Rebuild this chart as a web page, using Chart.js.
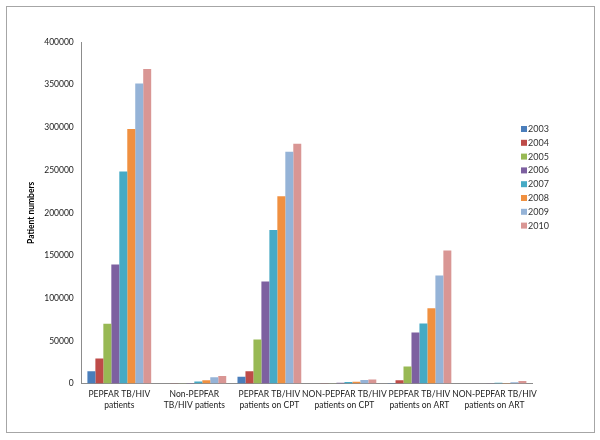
<!DOCTYPE html>
<html>
<head>
<meta charset="utf-8">
<script src="https://cdn.jsdelivr.net/npm/chart.js@4"></script>
<style>
  body { margin: 0; background: #fff; }
  #frame {
    position: absolute; left: 6px; top: 6px;
    width: 587px; height: 425px;
    border: 1px solid #a6a6a6;
  }
</style>
</head>
<body>
<div id="frame"><canvas id="main-chart" width="587" height="425"></canvas></div>
<script>
const categories = [
  ["PEPFAR TB/HIV", "patients"],
  ["Non-PEPFAR", "TB/HIV patients"],
  ["PEPFAR TB/HIV", "patients on CPT"],
  ["NON-PEPFAR TB/HIV", "patients on CPT"],
  ["PEPFAR TB/HIV", "patients on ART"],
  ["NON-PEPFAR TB/HIV", "patients on ART"]
];
const years = ["2003", "2004", "2005", "2006", "2007", "2008", "2009", "2010"];

const v2003 = [14500, 0, 8000, 0, 800, 0];
const v2004 = [29500, 300, 14500, 300, 3900, 0];
const v2005 = [70000, 400, 51500, 500, 19900, 200];
const v2006 = [139500, 800, 119500, 1000, 59800, 400];
const v2007 = [248500, 2400, 180000, 2000, 70400, 1000];
const v2008 = [298000, 4000, 219500, 2300, 88300, 800];
const v2009 = [351500, 7500, 271500, 4300, 126700, 1500];
const v2010 = [368500, 9000, 281000, 4700, 156000, 3100];
const series = [v2003, v2004, v2005, v2006, v2007, v2008, v2009, v2010];

const colors = ["#4A7EBB", "#BE4B48", "#98B954", "#7D60A0", "#46AAC5", "#F09040", "#95B3D7", "#D99694"];

const yTicks = [0, 50000, 100000, 150000, 200000, 250000, 300000, 350000, 400000];

const ctx = document.getElementById("main-chart").getContext("2d");
const font = "Lato, 'Open Sans', sans-serif";

// legend drawn by hand so it sits where Excel put it
const sideLegend = {
  id: "sideLegend",
  afterDraw(chart) {
    const c = chart.ctx;
    c.save();
    c.font = "9px " + font;
    c.textBaseline = "middle";
    chart.data.datasets.forEach((ds, i) => {
      const y = 122 + i * 13.8;
      c.fillStyle = ds.backgroundColor;
      c.fillRect(514, y - 3, 6, 6);
      c.fillStyle = "#333";
      c.fillText(ds.label, 521, y);
    });
    c.restore();
  },
};

new Chart(ctx, {
  type: "bar",
  data: {
    labels: categories,
    datasets: years.map((y, i) => ({
      label: y,
      data: series[i],
      backgroundColor: colors[i],
      categoryPercentage: 0.85,
      barPercentage: 1.0,
    })),
  },
  options: {
    responsive: false,
    animation: false,
    layout: { padding: { left: 19, right: 62, top: 35, bottom: 16 } },
    scales: {
      x: {
        grid: { display: false, drawTicks: false },
        border: { color: "#8c8c8c" },
        ticks: { color: "#222", font: { family: font, size: 8.5 }, maxRotation: 0, autoSkip: false, padding: 6 },
      },
      y: {
        min: 0,
        max: 400000,
        afterBuildTicks: (axis) => { axis.ticks = yTicks.map((v) => ({ value: v })); },
        grid: { display: false, drawTicks: false },
        border: { color: "#8c8c8c" },
        ticks: { color: "#222", font: { family: font, size: 8.5 }, padding: 8, callback: (v) => String(v) },
        title: {
          display: true,
          text: "Patient numbers",
          color: "#000",
          font: { family: font, size: 8.5, weight: "bold" },
          padding: { top: 0, bottom: 0 },
        },
      },
    },
    plugins: {
      legend: { display: false },
      tooltip: { enabled: false },
    },
  },
  plugins: [sideLegend],
});
</script>
</body>
</html>
